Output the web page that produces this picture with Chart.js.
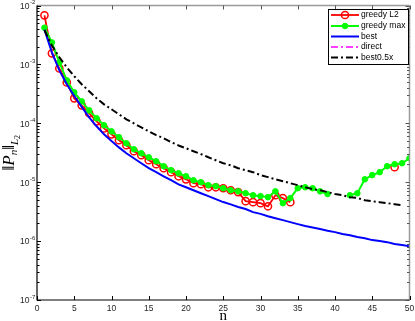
<!DOCTYPE html>
<html>
<head>
<meta charset="utf-8">
<script src="https://cdn.jsdelivr.net/npm/chart.js@4.4.1/dist/chart.umd.min.js"></script>
<style>
  html, body { margin: 0; padding: 0; background: #fff; }
  canvas { display: block; }
</style>
</head>
<body>
<canvas id="normChart" width="415" height="321"></canvas>
<script>
/* ── data ── */
const nValues = Array.from({ length: 50 }, (_, i) => i + 1);

const greedyL2 = [
  6.8e-3, 1.54e-3, 8.55e-4, 4.95e-4, 2.65e-4, 2.02e-4, 1.48e-4, 1.08e-4, 8.2e-5, 6.5e-5,
  5.15e-5, 4.24e-5, 3.35e-5, 2.87e-5, 2.36e-5, 2.02e-5, 1.73e-5, 1.48e-5, 1.26e-5, 1.12e-5,
  9.6e-6, 9.25e-6, 8.2e-6, 8.2e-6, 7.9e-6, 7.3e-6, 6.8e-6, 4.76e-6, 4.58e-6, 4.4e-6,
  3.9e-6, 6.0e-6, 5.36e-6, 4.58e-6, null, null, null, null, null, null,
  null, null, null, null, null, null, null, 1.8e-5, null, null
];

const greedyMax = [
  4.2e-3, 2.36e-3, 1.08e-3, 5.36e-4, 3.35e-4, 2.36e-4, 1.66e-4, 1.22e-4, 9.25e-5, 7.3e-5,
  5.8e-5, 4.58e-5, 3.62e-5, 3.1e-5, 2.65e-5, 2.27e-5, 1.87e-5, 1.6e-5, 1.42e-5, 1.26e-5,
  1.08e-5, 1.0e-5, 8.9e-6, 8.55e-6, 7.9e-6, 7.3e-6, 7.0e-6, 6.5e-6, 6.0e-6, 5.8e-6,
  5.57e-6, 7.0e-6, 4.4e-6, 5.36e-6, 7.9e-6, 8.2e-6, 7.9e-6, 7.0e-6, 6.3e-6, null,
  null, 6.0e-6, 6.5e-6, 1.12e-5, 1.32e-5, 1.48e-5, 1.87e-5, 2.02e-5, 2.1e-5, 2.55e-5
];

const best = [
  3.9e-3, 1.6e-3, 7.9e-4, 4.6e-4, 2.9e-4, 1.9e-4, 1.26e-4, 8.9e-5, 6.5e-5, 5.0e-5,
  3.9e-5, 3.1e-5, 2.55e-5, 2.1e-5, 1.73e-5, 1.48e-5, 1.26e-5, 1.08e-5, 9.2e-6, 8.2e-6,
  7.3e-6, 6.5e-6, 5.8e-6, 5.15e-6, 4.6e-6, 4.2e-6, 3.8e-6, 3.5e-6, 3.1e-6, 2.9e-6,
  2.65e-6, 2.45e-6, 2.27e-6, 2.1e-6, 1.94e-6, 1.8e-6, 1.7e-6, 1.6e-6, 1.5e-6, 1.42e-6,
  1.32e-6, 1.26e-6, 1.17e-6, 1.12e-6, 1.04e-6, 1.0e-6, 9.6e-7, 8.9e-7, 8.55e-7, 8.2e-7
];

const direct = [];

const best05x = [
  3.8e-3, 2.1e-3, 1.32e-3, 8.9e-4, 6.3e-4, 4.6e-4, 3.5e-4, 2.65e-4, 2.1e-4, 1.73e-4,
  1.42e-4, 1.17e-4, 1.0e-4, 8.55e-5, 7.3e-5, 6.3e-5, 5.6e-5, 4.8e-5, 4.2e-5, 3.77e-5,
  3.35e-5, 3.0e-5, 2.65e-5, 2.36e-5, 2.1e-5, 1.94e-5, 1.73e-5, 1.6e-5, 1.48e-5, 1.32e-5,
  1.22e-5, 1.12e-5, 1.04e-5, 9.6e-6, 8.9e-6, 8.2e-6, 7.6e-6, 7.3e-6, 6.8e-6, 6.3e-6,
  6.0e-6, 5.57e-6, 5.4e-6, 4.95e-6, 4.76e-6, 4.58e-6, 4.4e-6, 4.24e-6, 4.07e-6, null
];

const xTicks = [0, 5, 10, 15, 20, 25, 30, 35, 40, 45, 50];
const yDecades = [-2, -3, -4, -5, -6, -7];

/* ── helpers ── */
function toPoints(vals) {
  return nValues.map((n, i) => ({ x: n, y: vals[i] === undefined ? null : vals[i] }));
}

const SANS = '"Liberation Sans", Arial, sans-serif';
const SERIF = '"Liberation Serif", "DejaVu Serif", serif';
const DASHDOT = [7, 3, 2, 3];

/* ── MATLAB-style axes, labels and legend ── */
const matlabAxes = {
  id: 'matlabAxes',
  afterDatasetsDraw(chart) {
    const { ctx, chartArea: a, scales: { x, y } } = chart;
    ctx.save();

    /* frame: top/right grey, left/bottom black */
    ctx.lineWidth = 1.5;
    ctx.strokeStyle = '#9a9a9a';
    ctx.beginPath();
    ctx.moveTo(a.left, a.top); ctx.lineTo(a.right, a.top);
    ctx.moveTo(a.right, a.top); ctx.lineTo(a.right, a.bottom);
    ctx.stroke();
    ctx.lineWidth = 1.2;
    ctx.strokeStyle = '#000';
    ctx.beginPath();
    ctx.moveTo(a.left, a.top); ctx.lineTo(a.left, a.bottom);
    ctx.lineTo(a.right, a.bottom);
    ctx.stroke();

    /* x ticks (inside) */
    ctx.lineWidth = 1;
    xTicks.forEach(t => {
      const px = Math.round(x.getPixelForValue(t)) + 0.5;
      ctx.strokeStyle = '#000';
      ctx.beginPath(); ctx.moveTo(px, a.bottom); ctx.lineTo(px, a.bottom - 4); ctx.stroke();
      ctx.strokeStyle = '#555';
      ctx.beginPath(); ctx.moveTo(px, a.top); ctx.lineTo(px, a.top + 4); ctx.stroke();
    });

    /* y ticks, major + minor */
    yDecades.forEach(e => {
      for (let m = 1; m <= 9; m++) {
        const v = m * Math.pow(10, e - (m > 1 ? 1 : 0));
        if (v < 1e-7 || v > 1e-2) continue;
        const py = Math.round(y.getPixelForValue(v)) + 0.5;
        const len = m === 1 ? 4 : 2.5;
        ctx.strokeStyle = '#000';
        ctx.beginPath(); ctx.moveTo(a.left, py); ctx.lineTo(a.left + len, py); ctx.stroke();
        ctx.strokeStyle = '#555';
        ctx.beginPath(); ctx.moveTo(a.right, py); ctx.lineTo(a.right - len, py); ctx.stroke();
      }
    });

    /* tick labels */
    ctx.fillStyle = '#262626';
    ctx.font = '8.5px ' + SANS;
    ctx.textAlign = 'center';
    ctx.textBaseline = 'middle';
    xTicks.forEach(t => ctx.fillText(String(t), x.getPixelForValue(t), 309));

    yDecades.forEach(e => {
      const py = y.getPixelForValue(Math.pow(10, e));
      ctx.font = '8.5px ' + SANS;
      ctx.textAlign = 'right';
      ctx.textBaseline = 'middle';
      ctx.fillText('10', 29.5, py + 1);
      ctx.font = '6px ' + SANS;
      ctx.textAlign = 'left';
      ctx.fillText(String(e), 30, py - 3);
    });

    /* x title */
    ctx.fillStyle = '#000';
    ctx.font = '15px ' + SERIF;
    ctx.textAlign = 'center';
    ctx.textBaseline = 'alphabetic';
    ctx.fillText('n', (a.left + a.right) / 2, 320);

    /* y title  ‖P_n‖_{L_2} */
    const parts = [
      { t: '\u2016', f: '17px ' + SERIF, dy: 0 },
      { t: 'P', f: 'italic 17px ' + SERIF, dy: 0 },
      { t: 'n', f: 'italic 11px ' + SERIF, dy: 3 },
      { t: '\u2016', f: '17px ' + SERIF, dy: 0 },
      { t: 'L', f: 'italic 11px ' + SERIF, dy: 4 },
      { t: '2', f: '8px ' + SERIF, dy: 6 }
    ];
    let total = 0;
    parts.forEach(p => { ctx.font = p.f; p.w = ctx.measureText(p.t).width; total += p.w; });
    ctx.save();
    ctx.translate(14, (a.top + a.bottom) / 2);
    ctx.rotate(-Math.PI / 2);
    ctx.textAlign = 'left';
    let cx = -total / 2;
    parts.forEach(p => { ctx.font = p.f; ctx.fillText(p.t, cx, p.dy); cx += p.w; });
    ctx.restore();

    /* legend */
    const bx = 328.5, by = 9.5, bw = 80, bh = 55;
    ctx.fillStyle = '#fff';
    ctx.fillRect(bx, by, bw, bh);
    ctx.strokeStyle = '#000';
    ctx.lineWidth = 1;
    ctx.strokeRect(bx, by, bw, bh);
    const rows = [15, 26, 36.5, 47, 57.5];
    chart.data.datasets.forEach((ds, i) => {
      const ly = rows[i];
      ctx.save();
      ctx.strokeStyle = ds.borderColor;
      ctx.lineWidth = ds.borderWidth;
      ctx.setLineDash(ds.borderDash || []);
      ctx.beginPath(); ctx.moveTo(331, ly); ctx.lineTo(359, ly); ctx.stroke();
      ctx.setLineDash([]);
      if (ds.pointRadius > 0) {
        ctx.beginPath();
        ctx.arc(345, ly, ds.pointRadius, 0, Math.PI * 2);
        ctx.lineWidth = ds.pointBorderWidth;
        ctx.strokeStyle = ds.pointBorderColor;
        if (ds.pointBackgroundColor !== 'transparent') {
          ctx.fillStyle = ds.pointBackgroundColor; ctx.fill();
        }
        ctx.stroke();
      }
      ctx.restore();
      ctx.fillStyle = '#000';
      ctx.font = '8.5px ' + SANS;
      ctx.textAlign = 'left';
      ctx.textBaseline = 'middle';
      ctx.fillText(ds.label, 361, ly);
    });

    ctx.restore();
  }
};

/* ── chart ── */
const ctx = document.getElementById('normChart').getContext('2d');
new Chart(ctx, {
  type: 'line',
  data: {
    datasets: [
      {
        label: 'greedy L2',
        data: toPoints(greedyL2),
        borderColor: '#ff0000',
        borderWidth: 1.8,
        pointRadius: 3.6,
        pointBorderWidth: 1.5,
        pointBorderColor: '#ff0000',
        pointBackgroundColor: 'transparent',
        order: 5
      },
      {
        label: 'greedy max',
        data: toPoints(greedyMax),
        borderColor: '#00ff00',
        borderWidth: 2,
        pointRadius: 2.8,
        pointBorderWidth: 1,
        pointBorderColor: '#00ff00',
        pointBackgroundColor: '#00ff00',
        order: 4
      },
      {
        label: 'best',
        data: toPoints(best),
        borderColor: '#0000ff',
        borderWidth: 2,
        pointRadius: 0,
        order: 3
      },
      {
        label: 'direct',
        data: toPoints(direct),
        borderColor: '#ff00ff',
        borderWidth: 1.5,
        borderDash: DASHDOT,
        pointRadius: 0,
        order: 2
      },
      {
        label: 'best0.5x',
        data: toPoints(best05x),
        borderColor: '#000000',
        borderWidth: 2,
        borderDash: DASHDOT,
        pointRadius: 0,
        order: 1
      }
    ]
  },
  options: {
    responsive: false,
    animation: false,
    spanGaps: false,
    layout: { padding: { left: 37, right: 5, top: 5, bottom: 21 } },
    plugins: { legend: { display: false }, tooltip: { enabled: false } },
    elements: { line: { tension: 0 } },
    scales: {
      x: { type: 'linear', min: 0, max: 50, display: false },
      y: { type: 'logarithmic', min: 1e-7, max: 1e-2, display: false }
    }
  },
  plugins: [matlabAxes]
});
</script>
</body>
</html>
